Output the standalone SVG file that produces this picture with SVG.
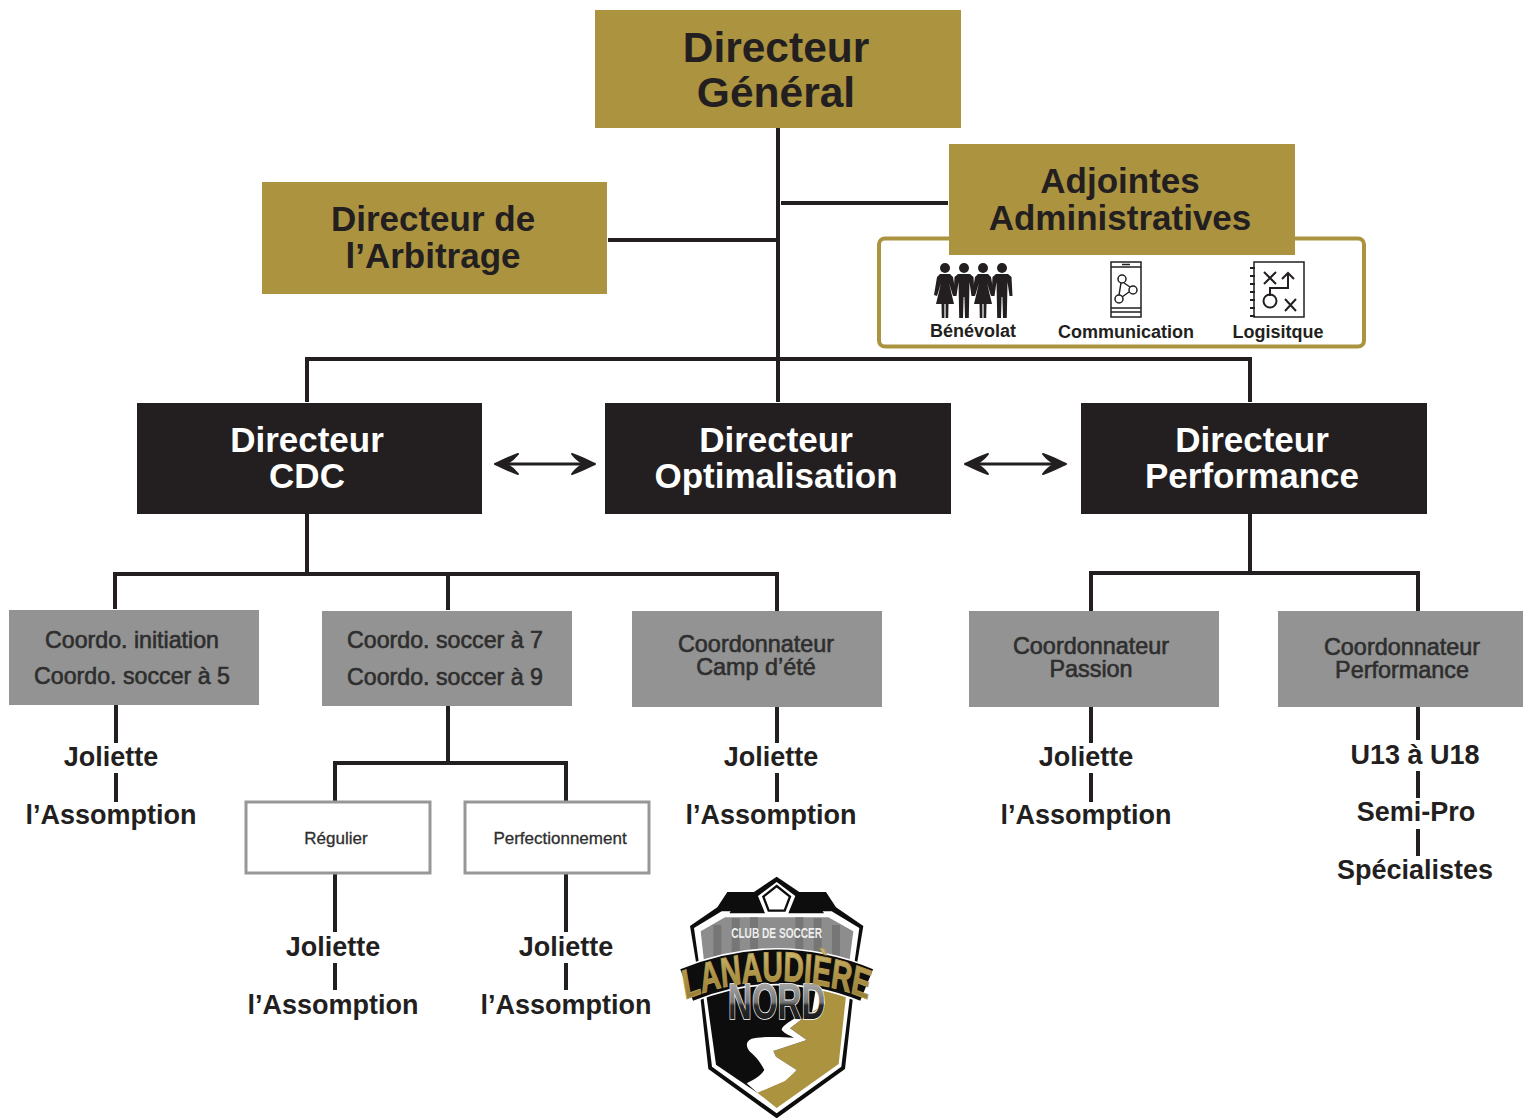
<svg xmlns="http://www.w3.org/2000/svg" width="1523" height="1118" viewBox="0 0 1523 1118">
<style>
text{font-family:"Liberation Sans",Arial,sans-serif;text-anchor:middle}
.gold{fill:#ab9340}.black{fill:#231f20}.gray{fill:#939393}
.white{fill:#fff;stroke:#979797;stroke-width:3}
.t35{font-size:35px;font-weight:700;fill:#231f20}
.w35{font-size:35px;font-weight:700;fill:#fff}
.t43{font-size:42.5px;font-weight:700;fill:#231f20}
.g21{font-size:23.2px;fill:#2e2e2e;stroke:#2e2e2e;stroke-width:.6px}
.g22{font-size:23.4px;fill:#2e2e2e;stroke:#2e2e2e;stroke-width:.6px}
.s17{font-size:17px;fill:#2e2e2e;stroke:#2e2e2e;stroke-width:.3px}
.lab{font-size:27px;font-weight:700;fill:#231f20}
.ico{font-size:18px;font-weight:700;fill:#231f20}
.con{fill:none;stroke:#231f20;stroke-width:4}
.thin{fill:none;stroke:#231f20;stroke-width:1.500}
</style>
<defs>
<marker id="ah" markerUnits="userSpaceOnUse" markerWidth="30" markerHeight="28" viewBox="-25 -14 30 28" refX="0" refY="0" orient="auto-start-reverse">
<path d="M2,0 C-5,-3 -12,-7 -21,-10 C-17,-5 -13,-2 -9,0 C-13,2 -17,5 -21,10 C-12,7 -5,3 2,0Z" fill="#231f20" stroke="#231f20" stroke-width="2" stroke-linejoin="round"/>
</marker>
<g id="man"><circle r="5" fill="#231f20"/><path fill="#231f20" d="M-6,6 L6,6 L9.500,9 L10.500,28 L7.500,28 L5.500,14 L4.800,50 L1,50 L.4,29 L-.4,29 L-1,50 L-4.800,50 L-5.500,14 L-7.500,28 L-10.500,28 L-9.500,9Z"/></g>
<g id="woman"><circle r="5" fill="#231f20"/><path fill="#231f20" d="M-5,6 L5,6 L8,9 L11,27 L8,28 L4,15 L9,36 L3.500,36 L3.200,50 L.6,50 L.6,36 L-.6,36 L-.6,50 L-3.200,50 L-3.500,36 L-9,36 L-4,15 L-8,28 L-11,27 L-8,9Z"/></g>
<linearGradient id="nordg" x1="0" y1="0" x2="0" y2="1"><stop offset="0" stop-color="#bdbdbd"/><stop offset=".5" stop-color="#777"/><stop offset=".56" stop-color="#2a2a2a"/><stop offset="1" stop-color="#111"/></linearGradient>
<linearGradient id="goldg" x1="0" y1="0" x2="0" y2="1"><stop offset="0" stop-color="#d6c27c"/><stop offset=".45" stop-color="#b0964a"/><stop offset="1" stop-color="#8a7430"/></linearGradient>
</defs>

<g id="connectors">
<path class="con" d="M778,128V402M781,203H948M608,240H778M307,402V359H1250V402"/>
<path class="con" d="M307,514V574M115,609V574H777V611M448,574V610"/>
<path class="con" d="M1250,514V573M1091,611V573H1418V611"/>
<path class="con" d="M448,706V763M335,801V763H566V801"/>
<path class="con" d="M116,705V743M116,773V802M777,707V743M777,773V802M1091,707V743M1091,773V802"/>
<path class="con" d="M335,874V932M335,963V990M566,874V932M566,963V990"/>
<path class="con" d="M1418,707V740M1418,771V798M1418,829V856"/>
<line x1="497" y1="464" x2="593" y2="464" stroke="#231f20" stroke-width="3" marker-start="url(#ah)" marker-end="url(#ah)"/>
<line x1="967" y1="464" x2="1064" y2="464" stroke="#231f20" stroke-width="3" marker-start="url(#ah)" marker-end="url(#ah)"/>
</g>

<g id="directeur-general"><rect class="gold" x="595" y="10" width="366" height="118"/><text class="t43" x="776" y="62">Directeur</text><text class="t43" x="776" y="107">Général</text></g>
<g id="directeur-arbitrage"><rect class="gold" x="262" y="182" width="345" height="112"/><text class="t35" x="433" y="231">Directeur de</text><text class="t35" x="433" y="268">l’Arbitrage</text></g>

<g id="adjointes-services">
<rect x="879" y="238.500" width="485" height="108" rx="6" fill="#fff" stroke="#ab9340" stroke-width="4"/>
<use href="#woman" x="945" y="268"/><use href="#man" x="964" y="268"/><use href="#woman" x="983" y="268"/><use href="#man" x="1002" y="268"/>
<text class="ico" x="973" y="337">Bénévolat</text>
<g class="thin"><rect x="1111" y="262" width="30" height="55"/><path d="M1111,267H1141M1111,308H1141M1111,312H1141M1122,264.500H1130"/><circle cx="1122" cy="279" r="4"/><circle cx="1133" cy="290" r="4"/><circle cx="1119" cy="299" r="4"/><path d="M1124,283L1130,287M1121,283L1119,295M1122,297L1129,292"/></g>
<text class="ico" x="1126" y="338">Communication</text>
<g class="thin"><rect x="1254" y="262" width="50" height="55"/><path d="M1250,268h5M1250,276h5M1250,284h5M1250,292h5M1250,300h5M1250,308h5M1250,316h5" stroke-width="2"/><path stroke-width="2" d="M1264,272L1276,284M1276,272L1264,284M1285,299L1296,311M1296,299L1285,311M1288,274V288H1270V296M1282,279L1288,273L1294,279"/><circle cx="1270" cy="301" r="6.500" stroke-width="2"/></g>
<text class="ico" x="1278" y="338">Logisitque</text>
</g>
<g id="adjointes"><rect class="gold" x="949" y="144" width="346" height="111"/><text class="t35" x="1120" y="193">Adjointes</text><text class="t35" x="1120" y="230">Administratives</text></g>

<g id="directeur-cdc"><rect class="black" x="137" y="403" width="345" height="111"/><text class="w35" x="307" y="452">Directeur</text><text class="w35" x="307" y="488">CDC</text></g>
<g id="directeur-optimalisation"><rect class="black" x="605" y="403" width="346" height="111"/><text class="w35" x="776" y="452">Directeur</text><text class="w35" x="776" y="488">Optimalisation</text></g>
<g id="directeur-performance"><rect class="black" x="1081" y="403" width="346" height="111"/><text class="w35" x="1252" y="452">Directeur</text><text class="w35" x="1252" y="488">Performance</text></g>

<g id="coordo-initiation"><rect class="gray" x="9" y="610" width="250" height="95"/><text class="g21" x="132" y="648">Coordo. initiation</text><text class="g21" x="132" y="684">Coordo. soccer à 5</text></g>
<g id="coordo-soccer"><rect class="gray" x="322" y="611" width="250" height="95"/><text class="g21" x="445" y="648">Coordo. soccer à 7</text><text class="g21" x="445" y="685">Coordo. soccer à 9</text></g>
<g id="coordo-camp"><rect class="gray" x="632" y="611" width="250" height="96"/><text class="g22" x="756" y="652">Coordonnateur</text><text class="g22" x="756" y="675">Camp d’été</text></g>
<g id="coordo-passion"><rect class="gray" x="969" y="611" width="250" height="96"/><text class="g22" x="1091" y="654">Coordonnateur</text><text class="g22" x="1091" y="677">Passion</text></g>
<g id="coordo-performance"><rect class="gray" x="1278" y="611" width="245" height="96"/><text class="g22" x="1402" y="655">Coordonnateur</text><text class="g22" x="1402" y="678">Performance</text></g>

<g id="regulier"><rect class="white" x="246" y="802" width="184" height="71"/><text class="s17" x="336" y="844">Régulier</text></g>
<g id="perfectionnement"><rect class="white" x="465" y="802" width="184" height="71"/><text class="s17" x="560" y="844">Perfectionnement</text></g>

<g id="labels-initiation"><text class="lab" x="111" y="766">Joliette</text><text class="lab" x="111" y="824">l’Assomption</text></g>
<g id="labels-regulier"><text class="lab" x="333" y="956">Joliette</text><text class="lab" x="333" y="1014">l’Assomption</text></g>
<g id="labels-perfectionnement"><text class="lab" x="566" y="956">Joliette</text><text class="lab" x="566" y="1014">l’Assomption</text></g>
<g id="labels-camp"><text class="lab" x="771" y="766">Joliette</text><text class="lab" x="771" y="824">l’Assomption</text></g>
<g id="labels-passion"><text class="lab" x="1086" y="766">Joliette</text><text class="lab" x="1086" y="824">l’Assomption</text></g>
<g id="labels-performance"><text class="lab" x="1415" y="764">U13 à U18</text><text class="lab" x="1416" y="821">Semi-Pro</text><text class="lab" x="1415" y="879">Spécialistes</text></g>

<g id="logo" transform="translate(670,870) scale(.33333)">
<path fill="#0d0d0d" d="M320,20L388,66L468,66L498,112L580,168L558,300L525,597L320,745L115,597L82,300L60,168L142,112L172,66L252,66Z"/>
<path fill="#fff" d="M72,174L155,124H485L568,174L546,330L514,590L320,730L126,590L94,330Z"/>
<path fill="#8d8d8d" d="M92,184L165,142H475L550,184L535,300H105Z"/>
<path fill="#767676" d="M130,165h24v135h-24zM185,145h24v155h-24zM240,142h24v158h-24zM376,142h24v158h-24zM431,145h24v155h-24zM486,165h24v135h-24z"/>
<path fill="#0d0d0d" d="M178,130L208,80H262L286,130ZM462,130L432,80H378L354,130Z"/>
<path fill="#fff" d="M320,36L376,78L354,132H286L264,78Z"/>
<path fill="none" stroke="#0d0d0d" stroke-width="7" d="M320,48L360,80L344,122H296L280,80Z"/>
<path fill="#0d0d0d" d="M104,340H440L400,590L262,668L138,584Z"/>
<path fill="#ab9340" d="M440,340H532L506,582L320,714L262,668L345,632L380,600L318,560L310,543L410,510L360,475L392,450L465,400Z"/>
<path fill="#fff" d="M372,446C350,460 335,470 335,480C345,492 362,498 372,503C320,500 270,500 245,506C225,515 228,530 240,545C255,558 268,570 283,600C270,620 250,630 230,640L262,668L345,632L380,600L318,560L310,543L410,510L360,475L392,450Z"/>
<path fill="none" stroke="#fff" stroke-width="112" d="M50,345Q320,235 590,345"/>
<path fill="none" stroke="#0d0d0d" stroke-width="102" d="M50,345Q320,235 590,345"/>
<text x="320" y="205" font-size="46" font-weight="700" fill="#eee" transform="translate(320,0) scale(.66,1) translate(-320,0)">CLUB DE SOCCER</text>
<g transform="translate(320,0) scale(.66,1)"><text x="0" y="448" font-size="150" font-weight="700" fill="url(#nordg)" stroke="#fff" stroke-width="5" paint-order="stroke">NORD</text></g>
<g transform="translate(320,0) scale(.68,1)">
<path id="arc" fill="none" d="M-400,388Q0,278 400,388"/>
<text font-size="125" font-weight="700" fill="url(#goldg)" stroke="#b39a4c" stroke-width="3"><textPath href="#arc" startOffset="50%">LANAUDIÈRE</textPath></text>
</g>
</g>
</svg>
